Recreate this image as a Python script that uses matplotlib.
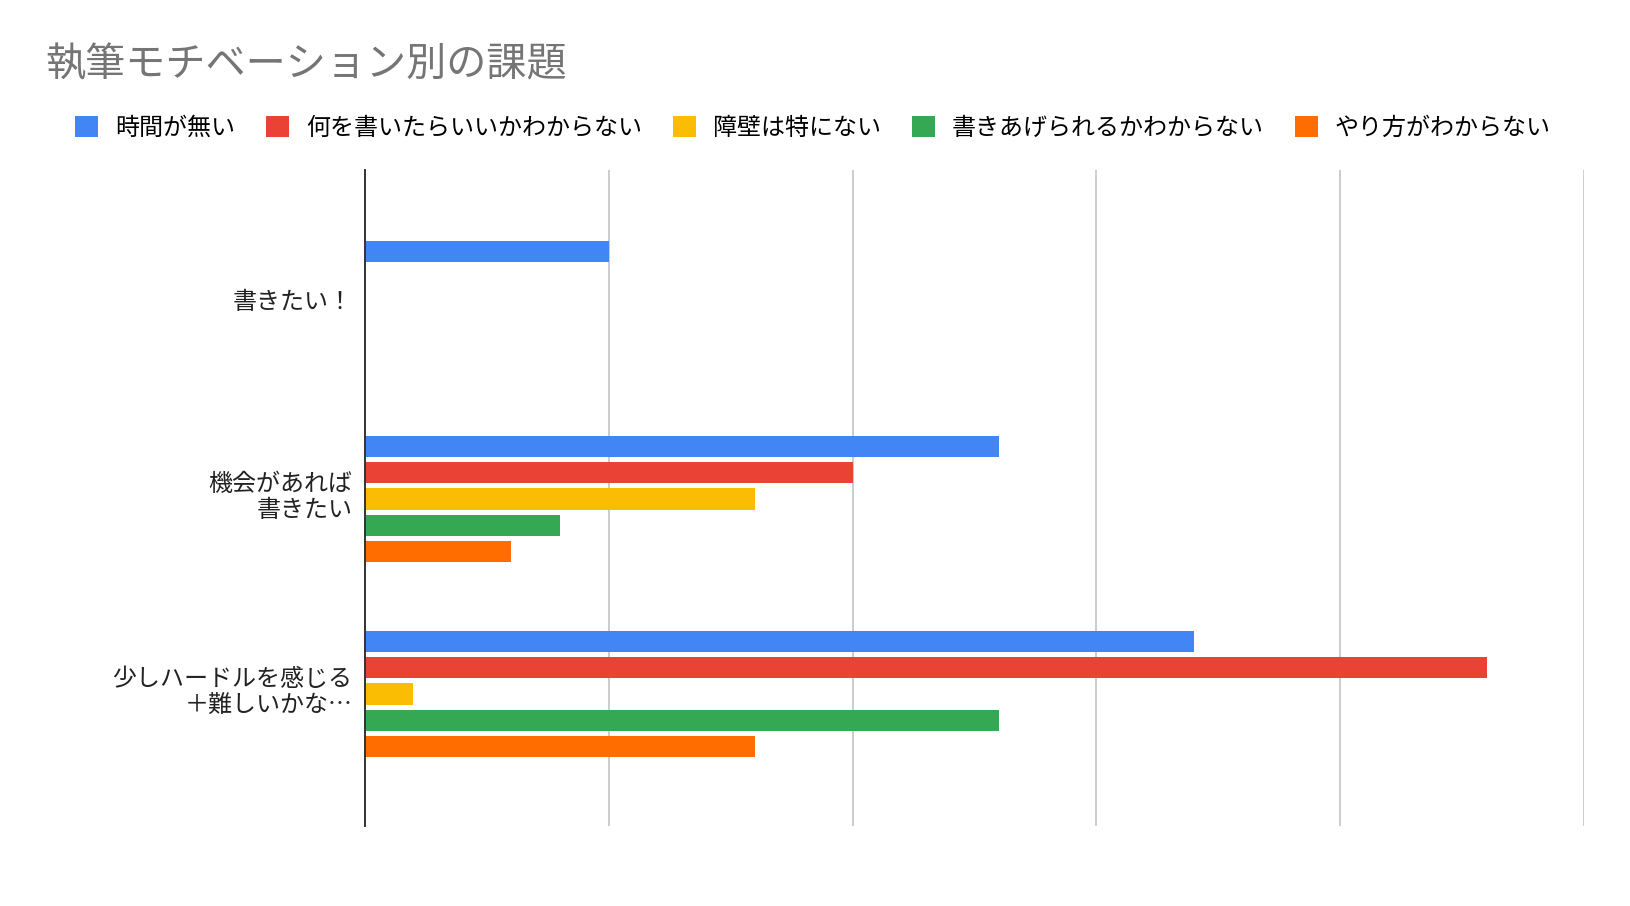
import numpy as np
import matplotlib
matplotlib.use('Agg')
import matplotlib.pyplot as plt

plt.rcParams['font.family'] = ['Noto Sans CJK JP', 'DejaVu Sans']

# データ
categories = ['書きたい！', '機会があれば\n書きたい', '少しハードルを感じる\n＋難しいかな…']
series_names = ['時間が無い', '何を書いたらいいかわからない', '障壁は特にない',
                '書きあげられるかわからない', 'やり方がわからない']
jikan = [5, 13, 17]
nani = [0, 10, 23]
shouheki = [0, 8, 1]
kakiage = [0, 4, 13]
yarikata = [0, 3, 8]
colors = ['#4285F4', '#EA4335', '#FBBC04', '#34A853', '#FF6D01']

series = [jikan, nani, shouheki, kakiage, yarikata]

fig = plt.figure(figsize=(16.3, 9.06), dpi=100)
ax = fig.add_axes([0.2237, 0.088, 0.7483, 0.724])

y = np.arange(len(categories))
step = 0.134
h = 0.108
handles = []
for i, (vals, name, c) in enumerate(zip(series, series_names, colors)):
    b = ax.barh(y + (i - 2) * step, vals, height=h, color=c, label=name, zorder=3)
    handles.append(b)

ax.set_xlim(0, 25)
ax.set_ylim(2.678, -0.685)
ax.set_xticks([5, 10, 15, 20, 25])
ax.set_xticklabels([])
ax.tick_params(axis='x', length=0)
ax.grid(axis='x', color='#cccccc', linewidth=1.4, zorder=0)
ax.set_yticks(y - 0.025)
ax.set_yticklabels(categories, fontsize=17.3, linespacing=1.0, color='#222222')
ax.tick_params(axis='y', length=0, pad=9)
for s in ['top', 'right', 'bottom']:
    ax.spines[s].set_visible(False)
ax.spines['left'].set_color('#333333')
ax.spines['left'].set_linewidth(1.4)
ax.spines['left'].set_zorder(4)

fig.text(0.028, 0.928, '執筆モチベーション別の課題', fontsize=28.9, color='#757575',
         ha='left', va='center')

fig.legend(handles=handles, loc='center left', bbox_to_anchor=(0.033, 0.859),
           ncol=5, frameon=False, fontsize=17.3, handlelength=0.95, handleheight=0.95,
           handletextpad=0.7, columnspacing=1.3)

fig.savefig('out.png', dpi=100)
